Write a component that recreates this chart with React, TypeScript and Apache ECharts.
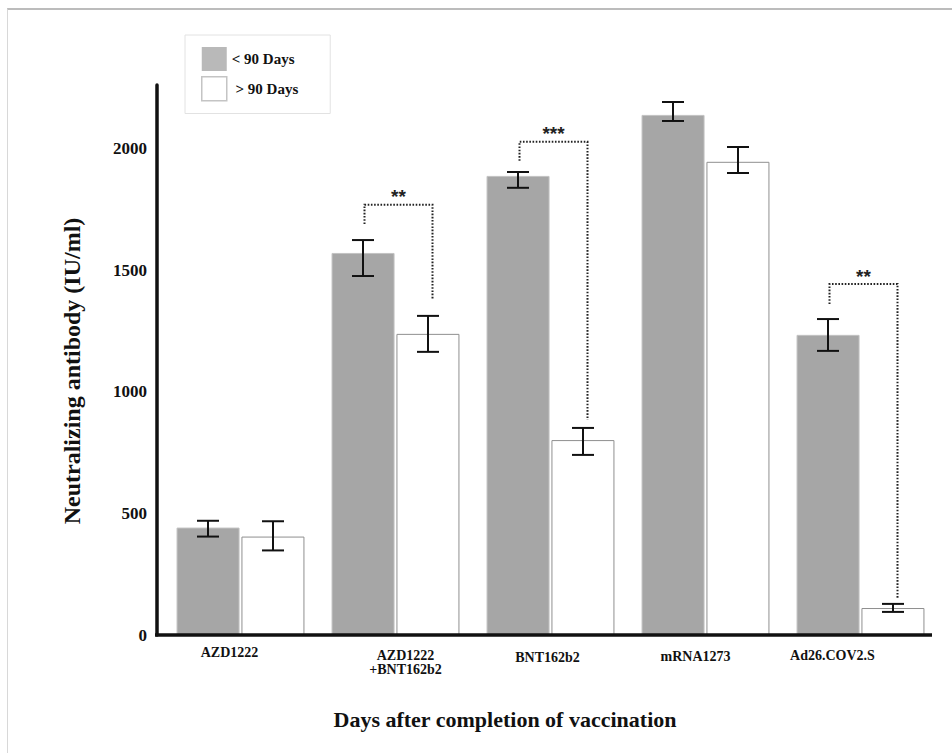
import React, { useEffect, useRef } from "react";
import * as echarts from "echarts";

const categories = ["AZD1222", "AZD1222\n+BNT162b2", "BNT162b2", "mRNA1273", "Ad26.COV2.S"];
const seriesNames = ["< 90 Days", "> 90 Days"];
const under90 = [442, 1572, 1889, 2140, 1235];
const under90Low = [405, 1477, 1840, 2115, 1169];
const under90High = [470, 1625, 1905, 2193, 1300];
const over90 = [405, 1239, 802, 1947, 111];
const over90Low = [348, 1165, 741, 1901, 95];
const over90High = [468, 1313, 852, 2008, 128];
const yTicks = [0, 500, 1000, 1500, 2000];
// significance brackets: category, left foot, top, right foot
const sigCategory = [1, 2, 4];
const sigLeftFoot = [1691, 1951, 1362];
const sigTop = [1770, 2029, 1444];
const sigRightFoot = [1379, 885, 152];
const sigLabels = ["**", "***", "**"];

const FONT = "'Liberation Serif', 'Times New Roman', serif";
const BAR_W = 63;
const HALF = 32.5;
// per-label nudges of the hand-placed category labels (px): horizontal, downward
const LABEL_DX = [-11, 10, -3, -10, -28];
const LABEL_DY = [0, 5, 10, 7, 5];

export default function App() {
  const ref = useRef<HTMLDivElement>(null);
  useEffect(() => {
    if (!ref.current) return;
    const chart = echarts.init(ref.current, undefined, { renderer: "svg" });
    const errData: number[][] = [];
    for (let i = 0; i < categories.length; i++) {
      errData.push([i, 0, under90Low[i], under90High[i]]);
      errData.push([i, 1, over90Low[i], over90High[i]]);
    }
    const sigData = sigCategory.map((c, i) => [c, sigLeftFoot[i], sigTop[i], sigRightFoot[i]]);
    const rich: Record<string, any> = {};
    LABEL_DX.forEach((dx, i) => {
      const base = {
        fontFamily: FONT,
        fontWeight: "bold",
        fontSize: 14,
        color: "#111",
        lineHeight: 17,
        padding: [0, dx < 0 ? -2 * dx : 0, 0, dx > 0 ? 2 * dx : 0],
      };
      rich["s" + i] = base;
      rich["t" + i] = { ...base, padding: [LABEL_DY[i], base.padding[1], 0, base.padding[3]] };
    });
    chart.setOption({
      animation: false,
      grid: { left: 163, right: 14, top: 85, bottom: 118 },
      legend: {
        orient: "vertical",
        left: 185,
        top: 35,
        icon: "rect",
        itemWidth: 25,
        itemHeight: 24,
        itemGap: 5,
        padding: [12, 32, 12, 16],
        borderColor: "#e2e2e2",
        borderWidth: 1,
        textStyle: { fontFamily: FONT, fontWeight: "bold", fontSize: 15, color: "#111" },
        formatter: (n: string) => (n === "> 90 Days" ? " " + n : n),
        data: [
          { name: seriesNames[0], itemStyle: { color: "#b9b9b9", borderColor: "#b9b9b9", borderWidth: 0 } },
          { name: seriesNames[1], itemStyle: { color: "#fff", borderColor: "#c4c4c4", borderWidth: 1.5 } },
        ],
      },
      xAxis: {
        type: "category",
        data: categories,
        axisLine: { show: false },
        axisTick: { show: false },
        axisLabel: {
          margin: 9,
          fontFamily: FONT,
          fontWeight: "bold",
          fontSize: 14,
          color: "#111",
          lineHeight: 17,
          interval: 0,
          formatter: (v: string, i: number) =>
            v
              .split("\n")
              .map((line, k) => `{${k === 0 ? "t" : "s"}${i}|${line}}`)
              .join("\n"),
          rich,
        },
      },
      yAxis: {
        type: "value",
        min: 0,
        max: 2263,
        interval: 500,
        offset: 6,
        splitLine: { show: false },
        axisTick: { show: false },
        axisLine: { show: true, lineStyle: { color: "#111", width: 3.5 } },
        axisLabel: {
          showMaxLabel: false,
          margin: 10,
          fontFamily: FONT,
          fontWeight: "bold",
          fontSize: 17,
          color: "#111",
          formatter: (v: number) => (yTicks.includes(v) ? String(v) : ""),
        },
      },
      graphic: [
        {
          type: "line",
          shape: { x1: 155, y1: 635, x2: 932, y2: 635 },
          style: { stroke: "#111", lineWidth: 3.5 },
          z: 100,
        },
        {
          type: "text",
          x: 72,
          y: 371,
          rotation: Math.PI / 2,
          style: {
            text: "Neutralizing antibody (IU/ml)",
            font: `bold 24px ${FONT}`,
            fill: "#111",
            align: "center",
            verticalAlign: "middle",
          },
        },
        {
          type: "text",
          x: 505,
          y: 719,
          style: {
            text: "Days after completion of vaccination",
            font: `bold 22px ${FONT}`,
            fill: "#111",
            align: "center",
            verticalAlign: "middle",
          },
        },
      ],
      series: [
        {
          name: seriesNames[0],
          type: "bar",
          data: under90,
          barWidth: BAR_W,
          barGap: "3%",
          itemStyle: { color: "#a6a6a6", borderColor: "#c2c2c2", borderWidth: 1 },
        },
        {
          name: seriesNames[1],
          type: "bar",
          data: over90,
          barWidth: BAR_W,
          itemStyle: { color: "#ffffff", borderColor: "#8f8f8f", borderWidth: 1 },
        },
        {
          type: "custom",
          data: errData,
          z: 10,
          silent: true,
          renderItem: (params: any, api: any) => {
            const cat = api.value(0);
            const grp = api.value(1);
            const c = api.coord([cat, 0])[0];
            const x = c + (grp === 0 ? -HALF : HALF);
            const yl = api.coord([cat, api.value(2)])[1];
            const yh = api.coord([cat, api.value(3)])[1];
            const cap = 11;
            const st = { stroke: "#111", lineWidth: 2 };
            return {
              type: "group",
              children: [
                { type: "line", shape: { x1: x, y1: yl, x2: x, y2: yh }, style: st },
                { type: "line", shape: { x1: x - cap, y1: yl, x2: x + cap, y2: yl }, style: st },
                { type: "line", shape: { x1: x - cap, y1: yh, x2: x + cap, y2: yh }, style: st },
              ],
            };
          },
        },
        {
          type: "custom",
          data: sigData,
          z: 10,
          silent: true,
          renderItem: (params: any, api: any) => {
            const cat = api.value(0);
            const c = api.coord([cat, 0])[0];
            const xl = c - 31;
            const xr = c + 37;
            const yLf = api.coord([cat, api.value(1)])[1];
            const yT = api.coord([cat, api.value(2)])[1];
            const yRf = api.coord([cat, api.value(3)])[1];
            const st = { stroke: "#222", lineWidth: 2, lineDash: [1.6, 1.6], fill: null };
            return {
              type: "group",
              children: [
                {
                  type: "polyline",
                  shape: { points: [[xl, yLf], [xl, yT], [xr, yT], [xr, yRf]] },
                  style: st,
                },
                {
                  type: "text",
                  x: (xl + xr) / 2,
                  y: yT - 8,
                  style: {
                    text: sigLabels[params.dataIndex],
                    font: "bold 19px 'Liberation Sans', Arial, sans-serif",
                    fill: "#222",
                    align: "center",
                    verticalAlign: "middle",
                  },
                },
              ],
            };
          },
        },
      ],
    });
    return () => chart.dispose();
  }, []);
  return (
    <div style={{ position: "fixed", left: 0, top: 0, width: 952, height: 753, background: "#fff" }}>
      <div
        style={{
          position: "absolute",
          left: 7,
          top: 8,
          width: 960,
          height: 760,
          borderTop: "2px solid #bcbcbc",
          borderLeft: "1px solid #d8d8d8",
        }}
      />
      <div ref={ref} style={{ position: "absolute", left: 0, top: 0, width: 952, height: 753 }} />
    </div>
  );
}
